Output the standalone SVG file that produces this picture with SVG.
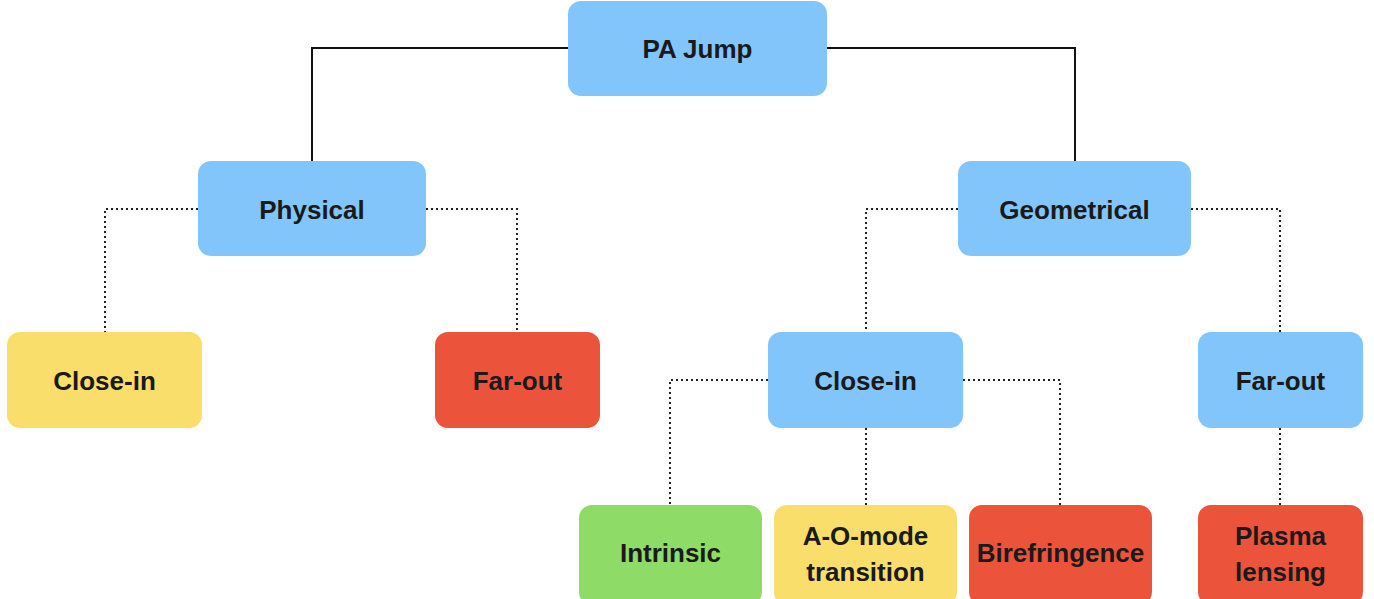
<svg xmlns="http://www.w3.org/2000/svg" width="1374" height="599" viewBox="0 0 1374 599">
<style>
.blue{fill:#82C5FA}
.yellow{fill:#F9DE6B}
.red{fill:#EC533B}
.green{fill:#8FDB67}
text{font-family:"Liberation Sans",Arial,sans-serif;font-weight:bold;font-size:26px;fill:#1a1a1a;text-anchor:middle}
.solid{fill:none;stroke:#111;stroke-width:2}
.dot{fill:none;stroke:#222;stroke-width:2;stroke-dasharray:2 3}
</style>
<rect width="1374" height="599" fill="#fff"/>
<g id="connectors">
<path class="solid" d="M568,48 H312 V161"/>
<path class="solid" d="M827,48 H1075 V161"/>
<path class="dot" d="M198,209 H105 V332"/>
<path class="dot" d="M426,209 H517 V332"/>
<path class="dot" d="M958,209 H866 V332"/>
<path class="dot" d="M1191,209 H1280 V332"/>
<path class="dot" d="M768,380 H670 V505"/>
<path class="dot" d="M866,428 V505"/>
<path class="dot" d="M963,380 H1060 V505"/>
<path class="dot" d="M1280,428 V505"/>
</g>
<g id="pa-jump"><rect class="blue" x="568" y="1" width="259" height="95" rx="13"/><text x="697.5" y="58">PA Jump</text></g>
<g id="physical"><rect class="blue" x="198" y="161" width="228" height="95" rx="13"/><text x="312" y="219">Physical</text></g>
<g id="geometrical"><rect class="blue" x="958" y="161" width="233" height="95" rx="13"/><text x="1074.5" y="219">Geometrical</text></g>
<g id="phys-close-in"><rect class="yellow" x="7" y="332" width="195" height="96" rx="13"/><text x="104.5" y="390">Close-in</text></g>
<g id="phys-far-out"><rect class="red" x="435" y="332" width="165" height="96" rx="13"/><text x="517.5" y="390">Far-out</text></g>
<g id="geo-close-in"><rect class="blue" x="768" y="332" width="195" height="96" rx="13"/><text x="865.5" y="390">Close-in</text></g>
<g id="geo-far-out"><rect class="blue" x="1198" y="332" width="165" height="96" rx="13"/><text x="1280.5" y="390">Far-out</text></g>
<g id="intrinsic"><rect class="green" x="579" y="505" width="183" height="100" rx="13"/><text x="670.5" y="562">Intrinsic</text></g>
<g id="ao-mode"><rect class="yellow" x="774" y="505" width="183" height="100" rx="13"/><text x="865.5" y="545">A-O-mode</text><text x="865.5" y="581">transition</text></g>
<g id="birefringence"><rect class="red" x="969" y="505" width="183" height="100" rx="13"/><text x="1060.5" y="562">Birefringence</text></g>
<g id="plasma-lensing"><rect class="red" x="1198" y="505" width="165" height="100" rx="13"/><text x="1280.5" y="545">Plasma</text><text x="1280.5" y="581">lensing</text></g>
</svg>
